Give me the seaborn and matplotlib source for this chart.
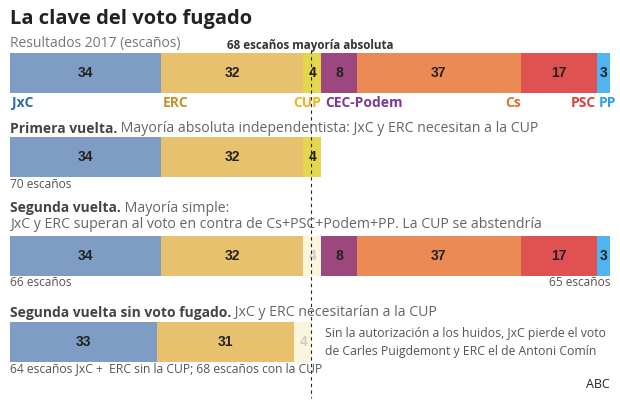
import numpy as np
import matplotlib.pyplot as plt
import seaborn as sns

# data
parties = ["JxC", "ERC", "CUP", "CEC-Podem", "Cs", "PSC", "PP"]
seats_2017 = [34, 32, 4, 8, 37, 17, 3]
seats_primera = [34, 32, 4]
seats_segunda = [34, 32, 4, 8, 37, 17, 3]
seats_sin_fugado = [33, 31, 4]
total_seats = 135
majority = 68

bar_colors = ["#7f9dc4", "#e8c16f", "#e3d84b", "#9c487f", "#ec8a56", "#e05252", "#4fb4f0"]
label_colors = ["#2f6aa8", "#c4922c", "#f2b01f", "#7e3a96", "#e2702f", "#d8433b", "#2e9fee"]
pale = "#fbf5dc"

sns.set_style("white")
plt.rcParams["font.family"] = ["Open Sans", "DejaVu Sans"]

W, H = 620, 400
fig = plt.figure(figsize=(6.2, 4.0), dpi=100)
renderer = fig.canvas.get_renderer()


def fx(x):
    return x / W


def fy(y):
    return 1 - y / H


def draw_row(top, values, colors, num_colors):
    ax = fig.add_axes([fx(10), fy(top + 40), 600 / W, 40 / H])
    cum = np.cumsum(values)
    for i in reversed(range(len(values))):
        sns.barplot(x=[cum[i]], y=["r"], orient="h", color=colors[i], width=1,
                    saturation=1, linewidth=0, ax=ax)
    ax.set_xlim(0, total_seats)
    ax.set_ylim(0.5, -0.5)
    ax.axis("off")
    for i, v in enumerate(values):
        ax.text(cum[i] - v / 2, 0, str(v), ha="center", va="center", fontsize=10,
                fontweight="bold", family="Liberation Sans", color=num_colors[i])
    return ax


def rich(x, y, bold, rest, size=10):
    t = fig.text(fx(x), fy(y), bold, fontsize=size, fontweight="bold", color="#444444", va="center")
    bb = t.get_window_extent(renderer)
    fig.text(bb.x1 / W, fy(y), " " + rest, fontsize=size + 0.2, color="#666666", va="center")


# title
fig.text(fx(10), fy(19), "La clave del voto fugado", fontsize=14.5, fontweight="bold", color="#222222", va="center")
fig.text(fx(10), fy(44), "Resultados 2017 (escaños)", fontsize=10, color="#777777", va="center")
fig.text(fx(310), fy(45), "68 escaños mayoría absoluta", fontsize=8.4, fontweight="bold", color="#333333",
         va="center", ha="center")

# row 1
dark = ["#222222"] * 7
draw_row(53, seats_2017, bar_colors, dark)
cum = np.cumsum(seats_2017)
px = lambda s: 10 + s * 600 / total_seats
label_pos = [(px(0) + 2, "left"), (px(cum[0]) + 2, "left"), (px(cum[2]), "right"),
             (px(cum[2]) + 4, "left"), (px(cum[4]), "right"), (px(cum[5]) - 1, "right"),
             (px(cum[5]) + 2, "left")]
for name, (x, ha), c in zip(parties, label_pos, label_colors):
    fig.text(fx(x), fy(103), name, fontsize=10, fontweight="bold", color=c, ha=ha, va="center")

# row 2
rich(10, 129, "Primera vuelta.", "Mayoría absoluta independentista: JxC y ERC necesitan a la CUP")
draw_row(137, seats_primera, bar_colors[:3], dark)
fig.text(fx(10), fy(185), "70 escaños", fontsize=8.6, color="#555555", va="center")

# row 3
rich(10, 208, "Segunda vuelta.", "Mayoría simple:")
fig.text(fx(10), fy(225), "JxC y ERC superan al voto en contra de Cs+PSC+Podem+PP. La CUP se abstendría",
         fontsize=10.2, color="#666666", va="center")
c3 = bar_colors.copy()
c3[2] = pale
n3 = dark.copy()
n3[2] = "#cccccc"
draw_row(236, seats_segunda, c3, n3)
fig.text(fx(10), fy(283), "66 escaños", fontsize=8.6, color="#555555", va="center")
fig.text(fx(610), fy(283), "65 escaños", fontsize=8.6, color="#555555", va="center", ha="right")

# row 4
rich(10, 313, "Segunda vuelta sin voto fugado.", "JxC y ERC necesitarían a la CUP")
draw_row(322, seats_sin_fugado, [bar_colors[0], bar_colors[1], pale], ["#222222", "#222222", "#cccccc"])
fig.text(fx(325), fy(334), "Sin la autorización a los huidos, JxC pierde el voto", fontsize=8.8,
         color="#555555", va="center")
fig.text(fx(325), fy(351), "de Carles Puigdemont y ERC el de Antoni Comín", fontsize=8.8,
         color="#555555", va="center")
fig.text(fx(10), fy(369), "64 escaños JxC +  ERC sin la CUP; 68 escaños con la CUP", fontsize=8.7,
         color="#555555", va="center")
fig.text(fx(610), fy(384), "ABC", fontsize=9, color="#222222", va="center", ha="right")

# majority line
fig.add_artist(plt.Line2D([fx(px(majority)) - 1 / W] * 2, [fy(50), fy(398)], color="#222222",
                          lw=0.8, ls=(0, (3, 3))))

fig.savefig("out.png", dpi=100, facecolor="white")
